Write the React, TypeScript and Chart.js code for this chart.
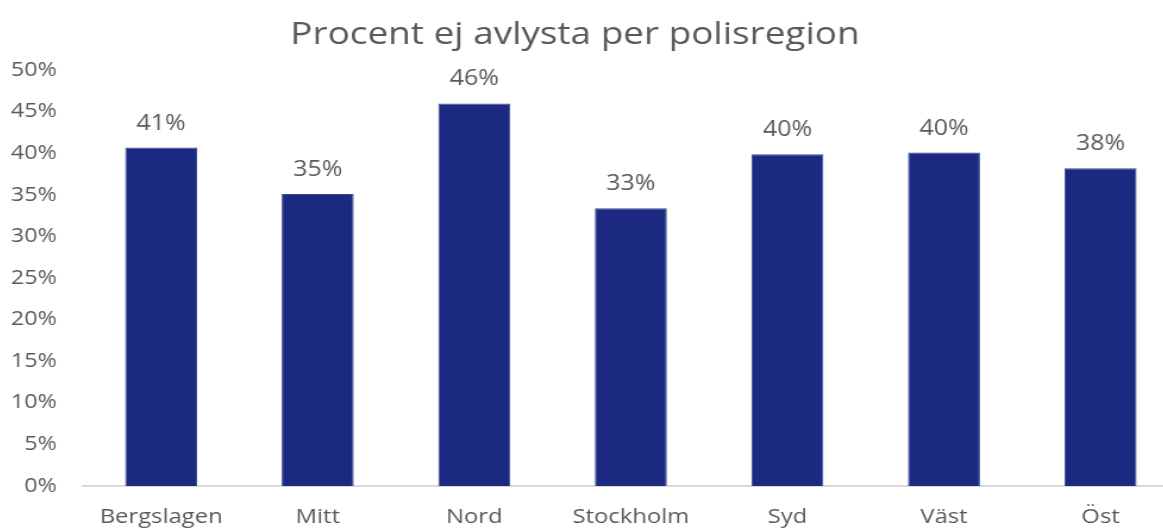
import React, { useEffect, useRef } from "react";
import { Chart, registerables } from "chart.js";

Chart.register(...registerables);

const categories = ["Bergslagen", "Mitt", "Nord", "Stockholm", "Syd", "Väst", "Öst"];
const values = [40.7, 35.1, 46.0, 33.4, 39.9, 40.1, 38.2];
const yTicks = [0, 5, 10, 15, 20, 25, 30, 35, 40, 45, 50];
const titleText = "Procent ej avlysta per polisregion";

const TEXT = "#595959";
const BAR = "#1b2a80";
const FONT = "'Open Sans', 'DejaVu Sans', sans-serif";
const STRETCH = 1.19;
const CANVAS_W = Math.round(1208 / STRETCH);

const dataLabels = {
  id: "dataLabels",
  afterDatasetsDraw(chart: any) {
    const ctx = chart.ctx;
    const meta = chart.getDatasetMeta(0);
    ctx.save();
    ctx.fillStyle = TEXT;
    ctx.font = `21px ${FONT}`;
    ctx.textAlign = "center";
    ctx.textBaseline = "middle";
    meta.data.forEach((bar: any, i: number) => {
      const v = chart.data.datasets[0].data[i];
      ctx.fillText(Math.round(v) + "%", bar.x, bar.y - 24);
    });
    ctx.restore();
  },
};

export default function App() {
  const ref = useRef<HTMLCanvasElement>(null);
  useEffect(() => {
    if (!ref.current) return;
    const chart = new Chart(ref.current, {
      type: "bar",
      data: {
        labels: categories,
        datasets: [
          {
            data: values,
            backgroundColor: BAR,
            borderColor: "#3a4893",
            borderWidth: 1,
            borderSkipped: "bottom",
            categoryPercentage: 1,
            barPercentage: 0.46,
          },
        ],
      },
      options: {
        animation: false,
        responsive: true,
        maintainAspectRatio: false,
        layout: { padding: 0 },
        plugins: {
          legend: { display: false },
          tooltip: { enabled: false },
          title: {
            display: true,
            text: titleText,
            color: TEXT,
            font: { family: FONT, size: 31, weight: "normal" },
            padding: { top: 17, bottom: 16 },
          },
        },
        scales: {
          x: {
            grid: { display: false },
            border: { display: true, color: "#d9d9d9", width: 2 },
            ticks: { color: TEXT, font: { family: FONT, size: 20 }, padding: 11, maxRotation: 0 },
            afterFit: (s: any) => {
              s.height = 43;
            },
          },
          y: {
            min: 0,
            max: 50,
            grid: { display: false },
            border: { display: false },
            afterBuildTicks: (s: any) => {
              s.ticks = yTicks.map((v) => ({ value: v }));
            },
            ticks: {
              color: TEXT,
              font: { family: FONT, size: 19.5 },
              padding: 14,
              callback: (v: any) => v + "%",
            },
            afterFit: (s: any) => {
              s.width = 94;
            },
          },
        },
      },
      plugins: [dataLabels],
    });
    return () => chart.destroy();
  }, []);
  return (
    <div style={{ position: "fixed", left: 0, top: 0, width: "100vw", height: "100vh", overflow: "hidden", background: "#fff" }}>
      <div
        style={{
          position: "absolute",
          left: -29,
          top: 0,
          width: CANVAS_W,
          height: 529,
          transform: `scaleX(${STRETCH})`,
          transformOrigin: "0 0",
        }}
      >
        <canvas ref={ref} />
      </div>
    </div>
  );
}
